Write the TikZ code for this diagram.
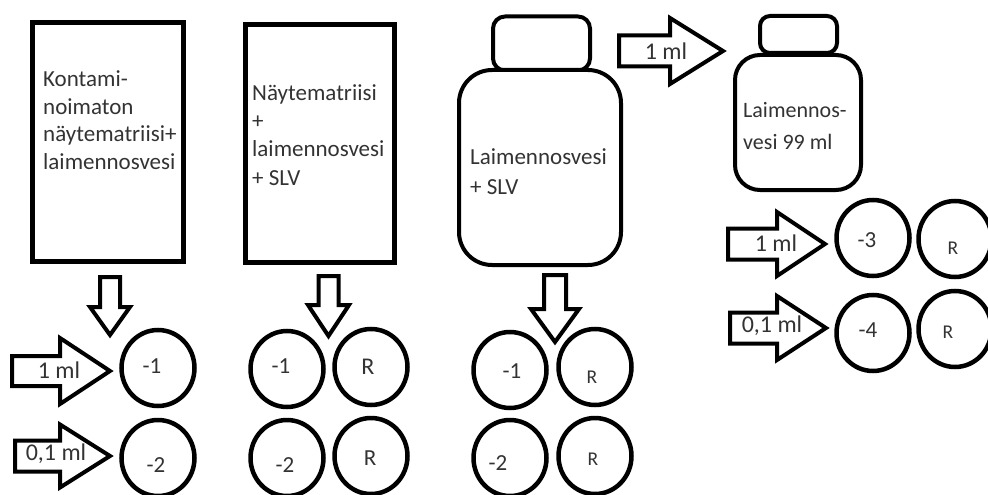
\documentclass[tikz,border=0pt]{standalone}
\usepackage{fontspec}
\setmainfont{Carlito}
\usetikzlibrary{shapes.geometric}
\definecolor{txt}{HTML}{333333}
\newcommand\blkright[6]{% x0, x1 (head start), xtip, ymid, shaft half, head half
  \draw[blockarrow] (#1,#4-#5) -- (#2,#4-#5) -- (#2,#4-#6) -- (#3,#4) -- (#2,#4+#6) -- (#2,#4+#5) -- (#1,#4+#5) -- cycle;}
\newcommand\blkdown[6]{% cx, top, head start, tip y, shaft half, head half
  \draw[blockarrow] (#1-#5,#2) -- (#1+#5,#2) -- (#1+#5,#3) -- (#1+#6,#3) -- (#1,#4) -- (#1-#6,#3) -- (#1-#5,#3) -- cycle;}
\begin{document}
\begin{tikzpicture}[x=1pt,y=-1pt,
  outline/.style={draw=black,line width=5pt,inner sep=0pt,rectangle},
  bottle/.style={draw=black,line width=4pt,inner sep=0pt,rectangle,fill=white},
  blockarrow/.style={draw=black,line width=4pt,line join=miter,fill=white},
  well/.style={draw=black,line width=4.5pt,ellipse,minimum width=73pt,minimum height=76pt,inner sep=0pt},
  lbl/.style={text=txt,font=\fontsize{23}{27}\selectfont,inner sep=0pt},
  arrlbl/.style={text=txt,font=\fontsize{24}{28}\selectfont,inner sep=0pt},
  biglbl/.style={text=txt,font=\fontsize{24}{28}\selectfont,inner sep=0pt},
  smalllbl/.style={text=txt,font=\fontsize{19.5}{23}\selectfont,inner sep=0pt},
  boxtext/.style={text=txt,align=left,anchor=west,inner sep=0pt}]
\useasboundingbox (0,0) rectangle (988,495);

% containers
\node[outline,minimum width=150.5pt,minimum height=238.5pt] (box1) at (107.75,141.75) {};
\node[outline,minimum width=149pt,minimum height=238pt] (box2) at (320,143.5) {};
\node[bottle,rounded corners=12pt,minimum width=97pt,minimum height=54pt] (cap3) at (541.5,43.5) {};
\node[bottle,rounded corners=33pt,minimum width=162pt,minimum height=195pt] (bot3) at (540,167.5) {};
\node[bottle,rounded corners=10pt,minimum width=77pt,minimum height=37pt] (cap4) at (798.5,34.5) {};
\node[bottle,rounded corners=25pt,minimum width=126pt,minimum height=135pt] (bot4) at (798,122.5) {};

% container texts
\node[boxtext,font=\fontsize{23}{27.5}\selectfont] (t1) at (43,120) {Kontami-\\noimaton\\näytematriisi+\\laimennosvesi};
\node[boxtext,font=\fontsize{23}{28.3}\selectfont] (t2) at (252,135) {Näytematriisi\\+\\laimennosvesi\\+ SLV};
\node[boxtext,font=\fontsize{23}{30}\selectfont] (t3) at (470,172) {Laimennosvesi\\+ SLV};
\node[boxtext,font=\fontsize{22}{32}\selectfont] (t4) at (743,126) {Laimennos-\\vesi 99 ml};

% block arrows
\blkdown{110}{277}{307}{335}{10}{20}
\blkdown{328.5}{276}{305}{336}{10}{20.5}
\blkdown{555}{275}{309}{342}{11}{24}
\blkright{12}{60}{110}{371}{15}{33}
\blkright{15}{60}{110}{456}{15.5}{31.5}
\blkright{619}{670}{723}{51}{15.5}{33}
\blkright{728}{777}{825}{244}{15.5}{32}
\blkright{730}{777}{826}{328}{15.5}{32}
\node[arrlbl] (m1) at (59,370) {1 ml};
\node[arrlbl] (m2) at (56,454) {0,1 ml};
\node[arrlbl] (m3) at (666,51) {1 ml};
\node[arrlbl] (m4) at (776,243) {1 ml};
\node[arrlbl] (m5) at (772,326) {0,1 ml};

% wells
\node[well] (c1a) at (158,368) {};
\node[well] (c1b) at (158,458) {};
\node[well] (c2a) at (287,369) {};
\node[well] (c2r) at (371,367) {};
\node[well] (c2b) at (287,458) {};
\node[well] (c2rb) at (371,456) {};
\node[well] (c3a) at (510,370) {};
\node[well] (c3r) at (595,367) {};
\node[well] (c3b) at (510,458) {};
\node[well] (c3rb) at (595,456) {};
\node[well] (c4a) at (873,238) {};
\node[well] (c4r) at (955,239) {};
\node[well] (c4b) at (873,333) {};
\node[well] (c4rb) at (955,329) {};

% well labels
\node[lbl] (l1a) at (152,366) {-1};
\node[lbl] (l1b) at (156,465) {-2};
\node[lbl] (l2a) at (281,366) {-1};
\node[biglbl] (l2r) at (368,367) {R};
\node[lbl] (l2b) at (285,465) {-2};
\node[lbl] (l2rb) at (370,458) {R};
\node[lbl] (l3a) at (512,371) {-1};
\node[smalllbl] (l3r) at (592,377) {R};
\node[lbl] (l3b) at (498,463) {-2};
\node[smalllbl] (l3rb) at (593,459) {R};
\node[lbl] (l4a) at (867,240) {-3};
\node[smalllbl] (l4r) at (953,248) {R};
\node[lbl] (l4b) at (868,330) {-4};
\node[smalllbl] (l4rb) at (948,332) {R};
\end{tikzpicture}
\end{document}
